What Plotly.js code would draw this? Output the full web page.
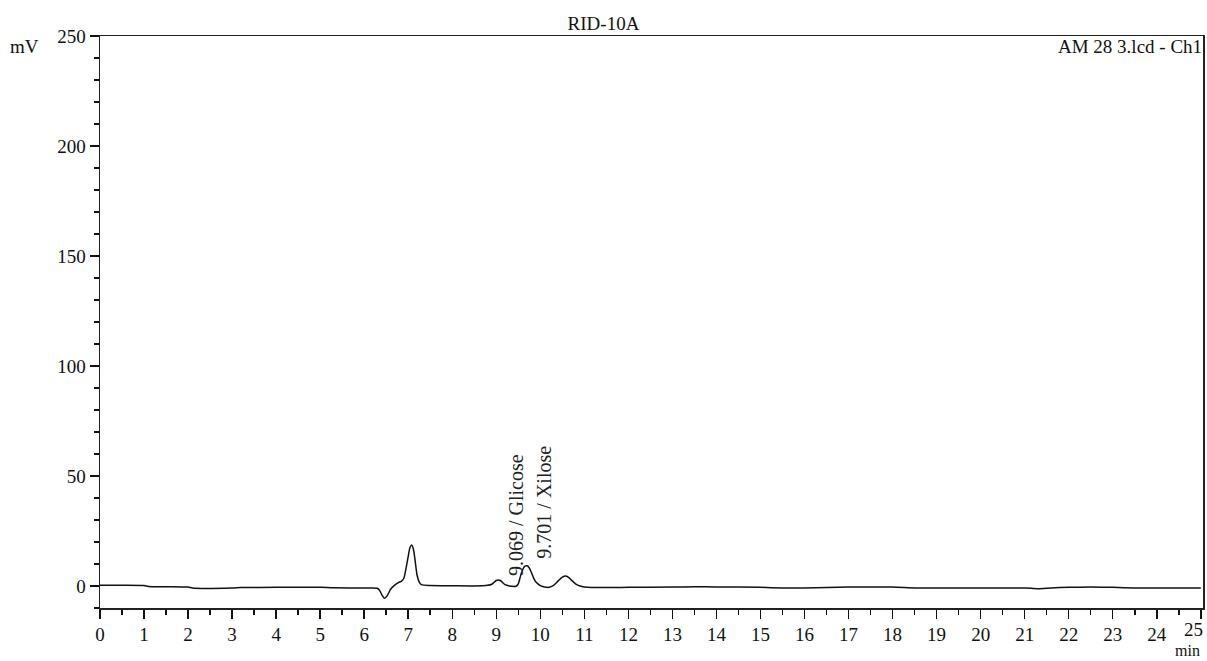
<!DOCTYPE html>
<html>
<head>
<meta charset="utf-8">
<script src="https://cdn.plot.ly/plotly-3.0.1.min.js"></script>
<style>html,body{margin:0;padding:0;background:#fff;}#chart{width:1207px;height:661px;}</style>
</head>
<body>
<div id="chart"></div>
<script>
// Retention time (min)
const times = [0, 0.5, 1.0, 1.1, 1.5, 2.0, 2.1, 3.0, 3.2, 4.0, 5.0, 5.3, 6.0, 6.3, 6.35, 6.4, 6.46, 6.52, 6.6, 6.7, 6.8, 6.85, 6.9, 6.95, 7.0, 7.04, 7.08, 7.12, 7.16, 7.2, 7.25, 7.3, 7.5, 8.0, 8.5, 8.8, 8.9, 8.95, 9.0, 9.05, 9.1, 9.15, 9.2, 9.3, 9.4, 9.45, 9.5, 9.55, 9.6, 9.65, 9.7, 9.75, 9.8, 9.85, 9.9, 10.0, 10.1, 10.2, 10.3, 10.4, 10.5, 10.58, 10.65, 10.7, 10.8, 10.9, 11.0, 11.5, 12, 13, 13.5, 14, 15, 15.5, 16, 17, 18, 18.5, 19, 20, 21, 21.3, 21.6, 22, 22.5, 23, 23.5, 24, 25];
// Signal (mV)
const signal = [0.3, 0.3, 0.2, -0.2, -0.3, -0.5, -0.9, -0.9, -0.7, -0.6, -0.6, -0.8, -0.9, -1.0, -2.0, -4.0, -5.6, -4.5, -1.5, 0.5, 1.8, 2.2, 3.5, 8.0, 13.5, 17.5, 18.6, 16.5, 11.0, 5.0, 1.8, 0.6, 0.2, 0.1, 0.0, 0.3, 0.8, 1.7, 2.5, 2.7, 2.4, 1.5, 0.6, 0.0, -0.2, -0.1, 1.0, 4.5, 7.5, 9.0, 9.2, 8.2, 6.0, 3.5, 1.8, 0.2, -0.5, -0.6, 0.3, 2.2, 4.0, 4.5, 3.8, 2.8, 1.0, 0.0, -0.4, -0.7, -0.6, -0.5, -0.3, -0.4, -0.6, -0.9, -0.9, -0.5, -0.5, -0.9, -0.9, -0.9, -0.9, -1.2, -0.9, -0.6, -0.5, -0.6, -0.9, -0.9, -0.9];
// Peak labels
const peakTimes = [9.45, 10.09];
const peakLabelY = [32.3, 38.0];
const peakLabels = ['9.069 / Glicose', '9.701 / Xilose'];
const xTicks = [0,1,2,3,4,5,6,7,8,9,10,11,12,13,14,15,16,17,18,19,20,21,22,23,24,25];
const yTicks = [0, 50, 100, 150, 200, 250];

const serif = 'Liberation Serif, Times New Roman, serif';
const lastTick = xTicks[xTicks.length - 1];

const trace = {
  x: times, y: signal, type: 'scatter', mode: 'lines',
  line: {color: '#111', width: 1.5, shape: 'spline', smoothing: 0.6},
  hoverinfo: 'skip'
};

const annotations = peakLabels.map((t, i) => ({
  x: peakTimes[i], y: peakLabelY[i], xref: 'x', yref: 'y',
  text: t, showarrow: false, textangle: -90,
  xanchor: 'center', yanchor: 'middle',
  font: {family: serif, size: 20, color: '#222'}
}));
annotations.push({
  x: -0.068, y: 0.981, xref: 'paper', yref: 'paper', text: 'mV', showarrow: false,
  xanchor: 'center', yanchor: 'middle', font: {family: serif, size: 19, color: '#111'}
});
annotations.push({
  x: 1, y: 0.981, xref: 'paper', yref: 'paper', text: 'AM 28 3.lcd - Ch1', showarrow: false,
  xanchor: 'right', yanchor: 'middle', xshift: 1, font: {family: serif, size: 19, color: '#111'}
});
annotations.push({
  x: 0.9864, y: -0.0909, xref: 'paper', yref: 'paper', text: 'min', showarrow: false,
  xanchor: 'center', yanchor: 'bottom', borderpad: 0, font: {family: serif, size: 16, color: '#111'}
});
// last x tick label, kept inside the figure edge
annotations.push({
  x: lastTick, y: 0, xref: 'x', yref: 'paper', text: String(lastTick), showarrow: false,
  xanchor: 'right', yanchor: 'top', xshift: 3, yshift: -10, borderpad: 0,
  font: {family: serif, size: 19, color: '#111'}
});

const layout = {
  width: 1207, height: 661,
  margin: {l: 100, r: 4, t: 36, b: 53},
  paper_bgcolor: '#fff', plot_bgcolor: '#fff',
  showlegend: false,
  title: {text: 'RID-10A', x: 0.5, xref: 'container', y: 0.965, yref: 'container', yanchor: 'middle',
          font: {family: serif, size: 19, color: '#111'}},
  xaxis: {
    range: [0, 25.05], tickvals: xTicks, ticktext: xTicks.map(v => v === lastTick ? '' : String(v)),
    ticks: 'outside', ticklen: 9, tickwidth: 1.5, tickcolor: '#111',
    minor: {dtick: 0.5, tick0: 0, ticks: 'outside', ticklen: 5, tickwidth: 1.5, tickcolor: '#111'},
    showline: true, linecolor: '#222', linewidth: 1.5, mirror: true,
    showgrid: false, zeroline: false,
    tickfont: {family: serif, size: 19, color: '#111'}
  },
  yaxis: {
    range: [-10, 250], tickvals: yTicks, ticktext: yTicks.map(String),
    ticks: 'outside', ticklen: 9, tickwidth: 1.5, tickcolor: '#111',
    minor: {dtick: 10, tick0: 0, ticks: 'outside', ticklen: 5, tickwidth: 1.5, tickcolor: '#111'},
    showline: true, linecolor: '#222', linewidth: 1.5, mirror: true,
    showgrid: false, zeroline: false,
    tickfont: {family: serif, size: 19, color: '#111'}
  },
  annotations: annotations
};

Plotly.newPlot('chart', [trace], layout, {displayModeBar: false, staticPlot: true});
</script>
</body>
</html>
